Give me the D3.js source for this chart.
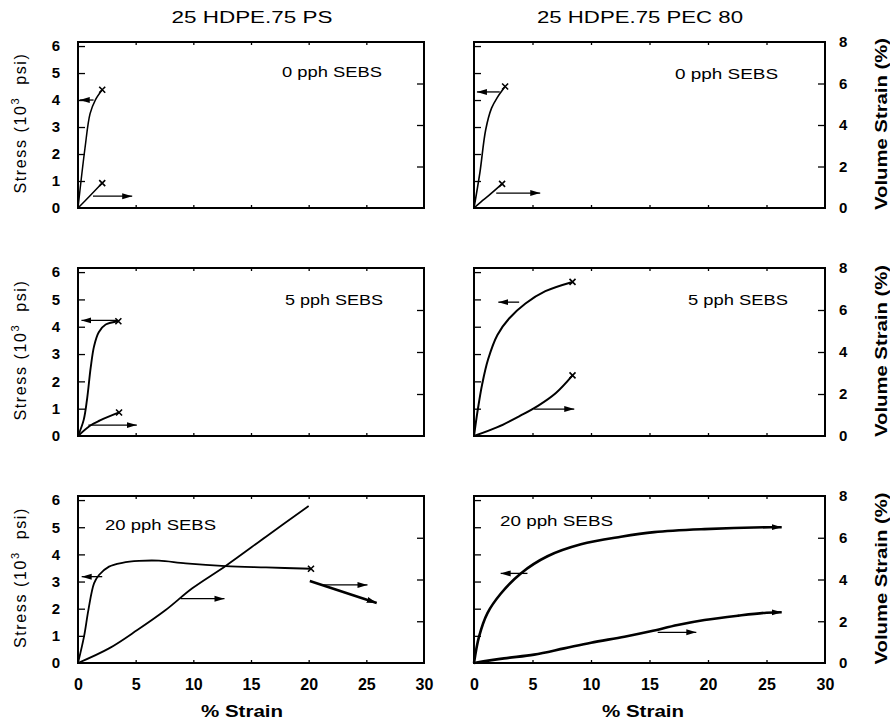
<!DOCTYPE html>
<html lang="en">
<head>
<meta charset="UTF-8">
<title>Stress and volume strain</title>
<script src="https://cdn.jsdelivr.net/npm/d3@7/dist/d3.min.js"></script>
<style>
body { margin: 0; background: #fff; }
text { font-family: "Liberation Sans", Arial, sans-serif; fill: #000; }
</style>
</head>
<body>
<script>
// axis ticks and labels
var strainTicks = [0, 5, 10, 15, 20, 25, 30];
var stressTicks = [0, 1, 2, 3, 4, 5, 6];
var volTicks = [0, 2, 4, 6, 8];
var blendTitles = ["25 HDPE.75 PS", "25 HDPE.75 PEC 80"];
var sebsLabels = ["0 pph SEBS", "5 pph SEBS", "20 pph SEBS"];

// curves: [% strain, value]
// stress in 10^3 psi (left axis), volume strain in % (right axis)
var psStress0 = [[0, 0], [0.6, 2.2], [1.05, 3.5], [1.5, 4.0], [2.1, 4.38]];
var psVol0 = [[0, 0], [1.0, 0.57], [2.1, 1.2]];
var pecStress0 = [[0, 0], [0.5, 1.3], [1.0, 2.9], [1.5, 3.7], [2.0, 4.1], [2.66, 4.5]];
var pecVol0 = [[0, 0], [0.6, 0.3], [1.3, 0.62], [2.4, 1.16]];

var psStress5 = [[0, 0], [0.5, 0.6], [0.8, 1.4], [1.1, 2.5], [1.4, 3.3], [1.8, 3.8], [2.4, 4.08], [3.5, 4.2]];
var psVol5 = [[0, 0], [1.04, 0.49], [1.91, 0.74], [3.56, 1.12]];
var pecStress5 = [[0, 0], [0.3, 0.9], [0.7, 1.9], [1.2, 2.8], [2.0, 3.7], [3.0, 4.3], [4.4, 4.85], [6.1, 5.3], [8.42, 5.64]];
var pecVol5 = [[0, 0], [2.0, 0.42], [4.0, 0.98], [5.5, 1.45], [7.0, 2.05], [8.42, 2.89]];

var psStress20 = [[0, 0], [0.52, 0.97], [0.9, 1.95], [1.39, 2.93], [1.82, 3.24], [2.69, 3.55], [3.84, 3.69], [5.29, 3.76],
	[7.02, 3.77], [9.34, 3.67], [12.8, 3.57], [16.3, 3.52], [20.2, 3.47]];
var psVol20 = [[0, 0], [2.69, 0.7], [5.14, 1.58], [7.6, 2.54], [9.91, 3.58], [12.8, 4.65], [16.3, 6.05], [20.0, 7.52]];
var psBreak20 = [[20.1, 3.02], [25.9, 2.21]];
var pecStress20 = [[0, 0], [0.43, 0.97], [1.14, 1.83], [2.28, 2.55], [4.0, 3.3], [6.28, 3.93], [9.14, 4.37], [12.56, 4.65],
	[15.4, 4.82], [19.7, 4.93], [25.3, 5.0], [26.3, 5.0]];
var pecVol20 = [[0, 0], [2.57, 0.22], [5.14, 0.4], [7.71, 0.7], [10, 0.97], [12.86, 1.26], [15.1, 1.52], [17.4, 1.82],
	[19.7, 2.06], [22.6, 2.27], [25, 2.41], [26.3, 2.43]];

// axis-pointer arrows: [axis, from strain, to strain, level]
var psArrows0 = [["stress", 1.35, 0.15, 4.0], ["vol", 1.3, 4.7, 0.57]];
var pecArrows0 = [["stress", 2.2, 0.25, 4.3], ["vol", 1.9, 5.66, 0.72]];
var psArrows5 = [["stress", 3.5, 0.3, 4.23], ["vol", 0.9, 5.1, 0.52]];
var pecArrows5 = [["stress", 3.86, 2.08, 4.9], ["vol", 5.14, 8.57, 1.28]];
var psArrows20 = [["stress", 2.1, 0.32, 3.18], ["vol", 8.9, 12.7, 3.08], ["vol", 21.2, 25.1, 3.74]];
var pecArrows20 = [["stress", 4.57, 2.28, 3.3], ["vol", 15.7, 19.0, 1.47]];

// layout
var width = 890, height = 722;
var colX = [[78, 424], [474, 825]];
var rowY = [[42, 208], [268, 436], [496, 663]];

var panels = [
	{col: 0, row: 0, stress: psStress0, vol: psVol0, arrows: psArrows0, cross: ["stress", "vol"], lw: 1.5, lab: [282, 77, 100]},
	{col: 1, row: 0, stress: pecStress0, vol: pecVol0, arrows: pecArrows0, cross: ["stress", "vol"], lw: 1.6, lab: [675, 79, 103]},
	{col: 0, row: 1, stress: psStress5, vol: psVol5, arrows: psArrows5, cross: ["stress", "vol"], lw: 1.9, lab: [285, 305, 98]},
	{col: 1, row: 1, stress: pecStress5, vol: pecVol5, arrows: pecArrows5, cross: ["stress", "vol"], lw: 2, lab: [688, 305, 100]},
	{col: 0, row: 2, stress: psStress20, vol: psVol20, arrows: psArrows20, cross: ["stress"], lw: 1.8, lab: [105, 530, 111]},
	{col: 1, row: 2, stress: pecStress20, vol: pecVol20, arrows: pecArrows20, cross: [], lw: 2.6, lab: [500, 526, 113], tips: true}
];

var svg = d3.select("body").append("svg").attr("width", width).attr("height", height);

// arrow head
svg.append("defs").append("marker")
	.attr("id", "head")
	.attr("markerUnits", "userSpaceOnUse")
	.attr("markerWidth", 11).attr("markerHeight", 7)
	.attr("refX", 10).attr("refY", 3.5)
	.attr("orient", "auto")
	.append("path").attr("d", "M0,0.5 L10,3.5 L0,6.5 Z").attr("fill", "#000");

function drawPanel(p) {
	var x0 = colX[p.col][0], x1 = colX[p.col][1];
	var y0 = rowY[p.row][0], y1 = rowY[p.row][1];
	var w = x1 - x0, h = y1 - y0;
	var g = svg.append("g").attr("transform", "translate(" + x0 + "," + y0 + ")");

	var x = d3.scaleLinear().domain([0, 30]).range([0, w]);
	var yS = d3.scaleLinear().domain([0, 6.15]).range([h, 0]);
	var yV = d3.scaleLinear().domain([0, 8]).range([h, 0]);
	var ys = {stress: yS, vol: yV};

	// inward tick marks
	function ticks(axis, tr) {
		var a = g.append("g").attr("transform", tr).call(axis);
		a.select(".domain").remove();
		a.selectAll("line").attr("stroke", "#000").attr("stroke-width", 1.3);
		a.selectAll("text").remove();
	}
	ticks(d3.axisRight(yS).tickValues([1, 2, 3, 4, 5, 6]).tickSize(7), "translate(0,0)");
	ticks(d3.axisLeft(yV).tickValues([2, 4, 6]).tickSize(7), "translate(" + w + ",0)");
	ticks(d3.axisBottom(x).tickValues([5, 10, 15, 20, 25]).tickSize(3), "translate(0,0)");
	ticks(d3.axisTop(x).tickValues([5, 10, 15, 20, 25]).tickSize(3), "translate(0," + h + ")");

	g.append("rect").attr("width", w).attr("height", h)
		.attr("fill", "none").attr("stroke", "#000").attr("stroke-width", 2);

	// tick labels
	var fmt = d3.format("d");
	if (p.col === 0) {
		var la = g.append("g").call(d3.axisLeft(yS).tickValues(stressTicks).tickFormat(fmt).tickSize(0).tickPadding(18));
		la.select(".domain").remove();
		la.selectAll("text").attr("font-size", 15).attr("font-weight", "bold").attr("font-family", "Liberation Sans, Arial, sans-serif");
	} else {
		var ra = g.append("g").attr("transform", "translate(" + w + ",0)")
			.call(d3.axisRight(yV).tickValues(volTicks).tickFormat(fmt).tickSize(0).tickPadding(14));
		ra.select(".domain").remove();
		ra.selectAll("text").attr("font-size", 15).attr("font-weight", "bold").attr("font-family", "Liberation Sans, Arial, sans-serif");
	}
	if (p.row === 2) {
		var ba = g.append("g").attr("transform", "translate(0," + h + ")")
			.call(d3.axisBottom(x).tickValues(strainTicks).tickFormat(fmt).tickSize(0).tickPadding(16));
		ba.select(".domain").remove();
		ba.selectAll("text").attr("font-size", 16).attr("font-weight", "bold").attr("font-family", "Liberation Sans, Arial, sans-serif");
	}

	// curves
	["stress", "vol"].forEach(function (k) {
		var line = d3.line()
			.x(function (d) { return x(d[0]); })
			.y(function (d) { return ys[k](d[1]); })
			.curve(d3.curveCatmullRom.alpha(0.5));
		var path = g.append("path").datum(p[k]).attr("d", line)
			.attr("fill", "none").attr("stroke", "#000")
			.attr("stroke-width", p.lw).attr("stroke-linejoin", "round");
		if (p.tips) path.attr("marker-end", "url(#head)");
	});

	// break-off segment (20 pph PS)
	if (p.stress === psStress20) {
		g.append("path").datum(psBreak20)
			.attr("d", d3.line().x(function (d) { return x(d[0]); }).y(function (d) { return yS(d[1]); }))
			.attr("stroke", "#000").attr("stroke-width", 2.6).attr("marker-end", "url(#head)");
	}

	// x marks at failure
	p.cross.forEach(function (k) {
		var last = p[k][p[k].length - 1];
		g.append("path")
			.attr("transform", "translate(" + x(last[0]) + "," + ys[k](last[1]) + ")")
			.attr("d", "M-3,-3L3,3M-3,3L3,-3")
			.attr("stroke", "#000").attr("stroke-width", 1.6);
	});

	// axis pointer arrows
	g.selectAll(".arrow").data(p.arrows).enter().append("line")
		.attr("class", "arrow")
		.attr("x1", function (d) { return x(d[1]); })
		.attr("x2", function (d) { return x(d[2]); })
		.attr("y1", function (d) { return ys[d[0]](d[3]); })
		.attr("y2", function (d) { return ys[d[0]](d[3]); })
		.attr("stroke", "#000").attr("stroke-width", 1.3)
		.attr("marker-end", "url(#head)");

	// SEBS label
	svg.append("text").attr("x", p.lab[0]).attr("y", p.lab[1])
		.attr("font-size", 14).attr("textLength", p.lab[2]).attr("lengthAdjust", "spacingAndGlyphs")
		.text(sebsLabels[p.row]);

	// side titles
	var cy = (y0 + y1) / 2;
	if (p.col === 0) {
		var st = svg.append("text")
			.attr("transform", "translate(26," + (cy - 2) + ") rotate(-90)")
			.attr("text-anchor", "middle").attr("font-size", 16)
			.attr("letter-spacing", 1.6);
		st.append("tspan").text("Stress (10");
		st.append("tspan").attr("dy", -7).attr("font-size", 11).text("3");
		st.append("tspan").attr("dy", 7).text("\u00a0\u00a0psi)");
	} else {
		svg.append("text")
			.attr("transform", "translate(887," + (cy - 1) + ") rotate(-90)")
			.attr("text-anchor", "middle").attr("font-size", 16).attr("font-weight", "bold")
			.attr("textLength", 172).attr("lengthAdjust", "spacingAndGlyphs")
			.text("Volume Strain (%)");
	}
	if (p.row === 2) {
		svg.append("text").attr("x", p.col === 0 ? 242 : 643).attr("y", 717)
			.attr("text-anchor", "middle").attr("font-size", 16).attr("font-weight", "bold")
			.attr("textLength", 82).attr("lengthAdjust", "spacingAndGlyphs")
			.text("% Strain");
	}
}

panels.forEach(drawPanel);

// column titles
svg.append("text").attr("x", 252).attr("y", 23).attr("text-anchor", "middle")
	.attr("font-size", 16).attr("textLength", 161).attr("lengthAdjust", "spacingAndGlyphs")
	.text(blendTitles[0]);
svg.append("text").attr("x", 640).attr("y", 23).attr("text-anchor", "middle")
	.attr("font-size", 16).attr("textLength", 206).attr("lengthAdjust", "spacingAndGlyphs")
	.text(blendTitles[1]);
</script>
</body>
</html>
